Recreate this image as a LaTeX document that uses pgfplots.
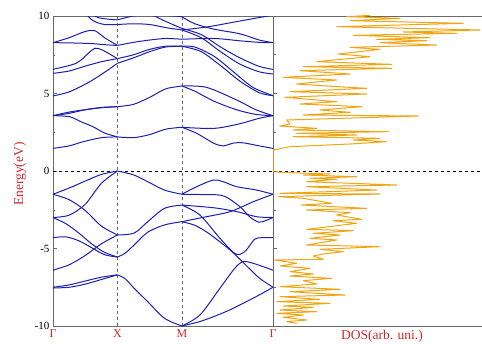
\documentclass[border=0pt]{standalone}
\usepackage{pgfplots}
\pgfplotsset{compat=1.18}
\usepackage{fontspec}
\setmainfont{Liberation Serif}
\definecolor{bandc}{RGB}{30,30,175}
\definecolor{dosc}{RGB}{240,165,20}
\definecolor{labred}{RGB}{200,45,45}
\definecolor{frame}{RGB}{105,105,105}
\pgfplotsset{
  common/.style={
    scale only axis, height=310pt, ymin=-10, ymax=10,
    axis line style={frame, line width=0.6pt},
    tick style={frame, line width=0.5pt},
    tick align=inside,
    major tick length=4pt, minor tick length=2.5pt,
    ytick={-10,-5,0,5,10}, minor ytick={-7.5,-2.5,2.5,7.5},
    /pgf/number format/assume math mode=true,
    tick label style={font=\fontsize{11}{11}\selectfont, black},
  },
  bd/.style={bandc, line width=1.0pt, smooth, tension=0.5},
}
\begin{document}
\begin{tikzpicture}
\useasboundingbox (-53pt,-17pt) rectangle (429pt,326pt);
\begin{axis}[common, at={(0,0)}, anchor=south west, width=220pt,
  xmin=0, xmax=3.414, xtick={0,1,2,3.414}, xticklabels={Γ,X,M,Γ},
  xticklabel style={text=labred, font=\fontsize{12}{12}\selectfont},
  major x tick style={draw=none},
  ytick pos=left,
  ylabel={Energy(eV)},
  ylabel style={at={(rel axis cs:-0.15,0.49)}, anchor=center, rotate=0, text=labred, font=\fontsize{13.5}{13.5}\selectfont},
  clip=true]
\addplot[frame, dashed, line width=0.5pt] coordinates {(1,-10) (1,10)};
\addplot[frame, dashed, line width=0.5pt] coordinates {(2,-10) (2,10)};
\addplot[black, dashed, line width=0.5pt] coordinates {(0,0) (3.414,0)};
% ---- valence, Gamma-X
\addplot[bd] coordinates {(0,-1.5)(0.25,-1.1)(0.5,-0.65)(0.75,-0.22)(1,0)};
\addplot[bd] coordinates {(0,-3.0)(0.25,-2.85)(0.5,-2.15)(0.75,-0.8)(1,0)};
\addplot[bd] coordinates {(0,-1.5)(0.25,-1.85)(0.5,-2.55)(0.75,-3.55)(1,-4.13)};
\addplot[bd] coordinates {(0,-3.0)(0.2,-3.4)(0.4,-4.0)(0.6,-4.7)(0.8,-5.25)(1,-5.55)};
\addplot[bd] coordinates {(0,-4.3)(0.2,-4.25)(0.4,-4.5)(0.6,-4.95)(0.8,-5.4)(1,-5.55)};
\addplot[bd] coordinates {(0,-6.4)(0.25,-6.05)(0.5,-5.45)(0.75,-4.7)(1,-4.13)};
\addplot[bd] coordinates {(0,-7.5)(0.25,-7.35)(0.5,-7.1)(0.75,-6.85)(1,-6.7)};
\addplot[bd] coordinates {(0,-7.55)(0.25,-7.5)(0.5,-7.3)(0.75,-7.0)(1,-6.7)};
% ---- valence, X-M
\addplot[bd] coordinates {(1,0)(1.25,-0.25)(1.47,-0.69)(1.73,-1.23)(2,-1.5)};
\addplot[bd] coordinates {(1,-4.13)(1.26,-4.0)(1.47,-3.27)(1.73,-2.41)(2,-2.2)};
\addplot[bd] coordinates {(1,-5.55)(1.12,-5.3)(1.26,-4.77)(1.47,-3.95)(1.73,-3.48)(2,-3.27)};
\addplot[bd] coordinates {(1,-6.7)(1.12,-6.95)(1.26,-7.57)(1.47,-8.43)(1.73,-9.5)(2,-10)};
% ---- valence, M-Gamma
\addplot[bd] coordinates {(2,-1.5)(2.23,-1.01)(2.49,-0.58)(2.64,-0.69)(2.85,-1.01)(3.16,-1.23)(3.414,-1.5)};
\addplot[bd] coordinates {(2,-1.5)(2.3,-1.52)(2.64,-1.6)(2.9,-2.3)(3.05,-2.95)(3.19,-3.3)(3.3,-3.2)(3.414,-3.0)};
\addplot[bd] coordinates {(2,-2.2)(2.49,-2.37)(2.85,-2.62)(3.16,-2.95)(3.414,-3.0)};
\addplot[bd] coordinates {(2,-3.27)(2.38,-2.95)(2.75,-2.62)(3.11,-1.98)(3.414,-1.5)};
\addplot[bd] coordinates {(2,-2.2)(2.28,-2.84)(2.59,-4.34)(2.8,-5.25)(2.9,-5.38)(3.0,-5.1)(3.13,-4.4)(3.25,-4.3)(3.414,-4.3)};
\addplot[bd] coordinates {(2,-3.27)(2.2,-3.5)(2.39,-3.95)(2.6,-4.6)(2.79,-5.25)(3.0,-6.1)(3.2,-6.9)(3.414,-7.5)};
\addplot[bd] coordinates {(2,-10)(2.28,-9.29)(2.59,-7.57)(2.82,-6.28)(2.95,-5.85)(3.11,-5.96)(3.414,-6.4)};
\addplot[bd] coordinates {(2,-10)(2.25,-9.75)(2.49,-9.4)(2.75,-8.95)(3.0,-8.43)(3.2,-8.0)(3.414,-7.5)};
% ---- conduction, Gamma-X
\addplot[bd] coordinates {(0,1.46)(0.25,1.62)(0.47,1.89)(0.75,2.15)(1,2.2)};
\addplot[bd] coordinates {(0,3.57)(0.26,3.5)(0.45,3.15)(0.62,2.86)(0.8,2.45)(1,2.2)};
\addplot[bd] coordinates {(0,3.57)(0.25,3.8)(0.47,3.94)(0.75,4.08)(1,4.15)};
\addplot[bd] coordinates {(0,3.57)(0.25,3.72)(0.5,3.95)(0.75,4.1)(1,4.15)};
\addplot[bd] coordinates {(0,4.84)(0.26,5.12)(0.57,5.76)(0.83,6.45)(1,6.95)};
\addplot[bd] coordinates {(0,6.3)(0.25,6.45)(0.47,6.73)(0.75,7.05)(1,7.25)};
\addplot[bd] coordinates {(0,6.56)(0.36,6.95)(0.55,7.6)(0.65,7.92)(0.77,7.8)(1,7.25)};
\addplot[bd] coordinates {(0,8.28)(0.3,8.26)(0.6,8.22)(0.8,8.15)(1,8.1)};
\addplot[bd] coordinates {(0,8.28)(0.25,8.6)(0.5,9.0)(0.65,9.05)(0.8,8.6)(1,8.1)};
\addplot[bd] coordinates {(0.5,10.2)(0.62,9.7)(0.8,9.45)(1,9.45)};
\addplot[bd] coordinates {(0.57,10.2)(0.7,9.9)(0.85,9.8)(1,9.75)};
% ---- conduction, X-M
\addplot[bd] coordinates {(1,2.2)(1.25,2.15)(1.5,2.35)(1.75,2.7)(2,2.82)};
\addplot[bd] coordinates {(1,4.15)(1.25,4.3)(1.5,4.75)(1.75,5.3)(2,5.48)};
\addplot[bd] coordinates {(1,6.95)(1.25,7.3)(1.5,7.7)(1.75,8.0)(2,8.05)};
\addplot[bd] coordinates {(1,7.25)(1.25,7.5)(1.5,7.85)(1.75,8.05)(2,8.05)};
\addplot[bd] coordinates {(1,8.1)(1.25,8.3)(1.5,8.45)(1.75,8.55)(2,8.5)};
\addplot[bd] coordinates {(1,9.45)(1.25,9.5)(1.5,9.45)(1.75,9.25)(2,9.1)};
\addplot[bd] coordinates {(1,9.75)(1.3,10.05)(1.6,10.1)(2,9.95)};
\addplot[bd] coordinates {(1.5,10.15)(1.75,9.65)(2,9.2)};
% ---- conduction, M-Gamma
\addplot[bd] coordinates {(2,2.82)(2.23,2.43)(2.49,1.8)(2.64,1.62)(2.8,1.8)(2.95,1.82)(3.2,1.62)(3.414,1.46)};
\addplot[bd] coordinates {(2,2.82)(2.5,2.75)(2.9,3.05)(3.2,3.4)(3.414,3.57)};
\addplot[bd] coordinates {(2,5.48)(2.38,5.4)(2.85,4.58)(3.15,3.95)(3.414,3.57)};
\addplot[bd] coordinates {(2,5.48)(2.2,5.15)(2.5,4.5)(2.85,3.95)(3.15,3.65)(3.414,3.57)};
\addplot[bd] coordinates {(2,8.05)(2.3,7.7)(2.6,6.8)(2.9,5.8)(3.2,5.05)(3.414,4.86)};
\addplot[bd] coordinates {(2,8.05)(2.2,8.0)(2.5,7.4)(2.8,6.4)(3.1,5.4)(3.414,4.86)};
\addplot[bd] coordinates {(2,9.1)(2.3,8.6)(2.6,7.7)(2.9,6.9)(3.2,6.4)(3.414,6.26)};
\addplot[bd] coordinates {(2,9.2)(2.3,8.8)(2.6,8.0)(2.9,7.3)(3.2,6.75)(3.414,6.56)};
\addplot[bd] coordinates {(2,8.5)(2.5,8.55)(2.9,8.4)(3.2,8.3)(3.414,8.28)};
\addplot[bd] coordinates {(2,9.1)(2.4,9.3)(2.8,9.6)(3.2,9.9)(3.414,10.05)};
\addplot[bd] coordinates {(2,9.95)(2.2,9.5)(2.5,9.15)(2.9,8.85)(3.2,8.45)(3.414,8.28)};
\end{axis}
\begin{axis}[common, at={(220pt,0)}, anchor=south west, width=218pt,
  xmin=0, xmax=218, xtick=\empty, yticklabels={}, ytick pos=left,
  xlabel={DOS(arb. uni.)},
  xlabel style={at={(rel axis cs:0.5,0)}, anchor=north, yshift=-1pt, text=labred, font=\fontsize{13.5}{13.5}\selectfont},
  clip=true]
\addplot[black, dashed, line width=0.5pt] coordinates {(0,0) (218,0)};
\addplot[dosc, line width=1.0pt, line join=round] coordinates {
(23.7,-9.828)(13.7,-9.72)(33.7,-9.613)(10.3,-9.44)(30.3,-9.29)(3.7,-9.183)(43.7,-9.075)(7,-8.968)
(40.3,-8.796)(10.3,-8.71)(57,-8.538)(3.7,-8.43)(47,-8.28)(7,-8.108)(72,-8.0)(17,-7.785)
(67,-7.634)(7,-7.462)(43.7,-7.29)(30.3,-7.075)(58.7,-6.925)(17,-6.774)(40.3,-6.645)(17,-6.495)
(37,-6.28)(7,-6.129)(23.7,-5.957)(2,-5.742)(50.3,-5.699)(40.3,-5.484)(50.3,-5.355)(70.3,-5.204)
(47,-5.054)(107,-4.882)(33.7,-4.774)(63.7,-4.452)(37,-4.344)(67,-4.129)(40.3,-4.021)(80.3,-3.849)
(33.7,-3.763)(83.7,-3.376)(60.3,-3.204)(88.7,-3.118)(63.7,-2.839)(77,-2.688)(33.7,-2.516)(93.7,-2.409)
(28.7,-2.194)(58.7,-2.086)(30.3,-1.763)(5.3,-1.656)(107,-1.484)(7,-1.441)(103.7,-1.226)(33.7,-1.011)
(123.7,-0.903)(33.7,-0.688)(63.7,-0.538)(37,-0.473)(83.7,-0.366)(30.3,-0.258)(57,-0.194)(17,-0.108)
(0,-0.05)(0,1.3)(0.3,1.355)(17,1.57)(77,1.742)(113.7,1.892)(80.3,2.0)(107,2.108)(20.3,2.215)
(83.7,2.323)(23.7,2.43)(115.3,2.538)(20.3,2.645)(43.7,2.753)(7,2.903)(17,3.032)(13.7,3.29)
(145.3,3.548)(30.3,3.613)(77,3.785)(47,3.935)(88.7,4.151)(27,4.323)(63.7,4.473)(12,4.753)
(93.7,4.968)(17,5.118)(93.7,5.333)(53.7,5.484)(23.7,5.613)(63.7,5.871)(10.3,6.043)(77,6.258)
(27,6.473)(118.7,6.624)(30.3,6.731)(118.7,6.882)(43.7,7.054)(97,7.376)(65.3,7.548)(107,7.849)
(77,7.978)(163.7,8.129)(107,8.28)(153.7,8.409)(103.7,8.495)(157,8.602)(80.3,8.753)(183.7,8.882)
(130.3,8.968)(207,9.097)(63.7,9.312)(190.3,9.527)(77,9.699)(127,9.849)(73.7,9.957)(97,10.04)};
\end{axis}
\end{tikzpicture}
\end{document}
